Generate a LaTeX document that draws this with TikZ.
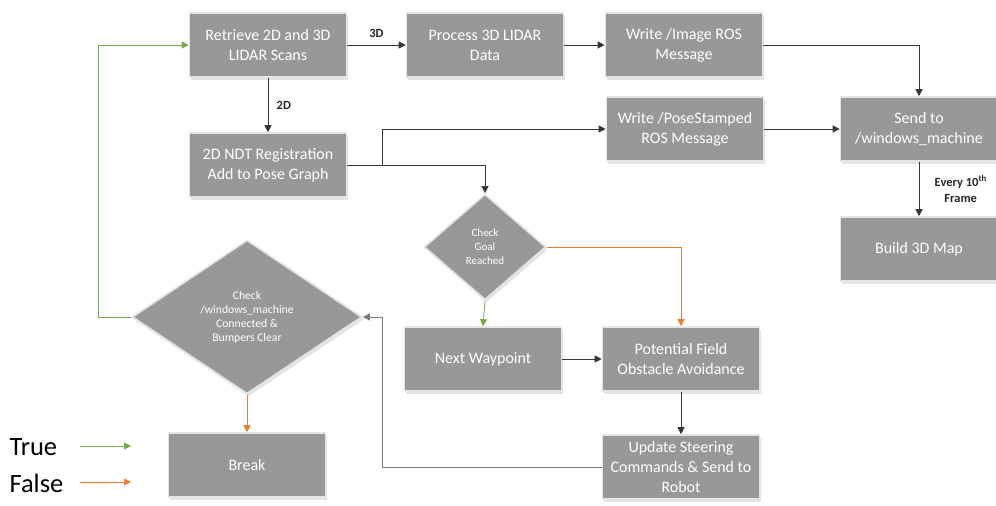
\documentclass[tikz,border=0pt]{standalone}
\usepackage{fontspec}
\setmainfont{Carlito}
\usetikzlibrary{arrows.meta,shapes.geometric,shadows}

\definecolor{boxgray}{RGB}{152,152,152}
\definecolor{edgeline}{RGB}{55,55,55}
\definecolor{loopline}{RGB}{120,120,120}
\definecolor{truegreen}{RGB}{112,173,71}
\definecolor{falseorange}{RGB}{237,125,49}

\tikzset{
  stepbox/.style={rectangle, fill=boxgray, draw=white!90!black, line width=1.6pt,
    text=white, align=center, font=\fontsize{16}{20}\selectfont,
    minimum width=157pt, minimum height=64pt, inner sep=1pt,
    drop shadow={shadow xshift=1.5pt, shadow yshift=-2.5pt, fill=black!22}},
  decision/.style={diamond, fill=boxgray, draw=white!90!black, line width=1.8pt,
    text=white, align=center, inner sep=0pt,
    drop shadow={shadow xshift=1.5pt, shadow yshift=-2.5pt, fill=black!22}},
  flow/.style={draw=edgeline, line width=0.8pt, -{Triangle[length=7pt,width=7pt]}},
  yes/.style={draw=truegreen, line width=0.8pt, -{Triangle[length=7pt,width=7pt]}},
  no/.style={draw=falseorange, line width=0.8pt, -{Triangle[length=7pt,width=7pt]}},
  tag/.style={font=\fontsize{12.5}{16}\selectfont\bfseries, text=black!85, align=center},
  legendtext/.style={anchor=west, font=\fontsize{26.5}{28}\selectfont},
}

\begin{document}
\begin{tikzpicture}[x=1pt, y=-1pt]
\useasboundingbox (0,0) rectangle (996,506);

% process boxes
\node[stepbox] (retrieve) at (268,45)  {Retrieve 2D and 3D\\LIDAR Scans};
\node[stepbox] (process)  at (485,45)  {Process 3D LIDAR\\Data};
\node[stepbox] (image)    at (684,45)  {Write /Image ROS\\Message};
\node[stepbox] (ndt)      at (268,165) {2D NDT Registration\\Add to Pose Graph};
\node[stepbox] (pose)     at (685,129) {Write /PoseStamped\\ROS Message};
\node[stepbox] (send)     at (919,129) {Send to\\/windows\_machine};
\node[stepbox] (map)      at (919,249) {Build 3D Map};
\node[stepbox] (waypoint) at (483,359) {Next Waypoint};
\node[stepbox] (field)    at (681,359) {Potential Field\\Obstacle Avoidance};
\node[stepbox] (steer)    at (681,467) {Update Steering\\Commands \& Send to\\Robot};
\node[stepbox] (brk)      at (247,465) {Break};

% decisions
\node[decision, minimum width=122pt, minimum height=106pt,
      font=\fontsize{11}{14}\selectfont] (goal) at (485,247) {Check\\Goal\\Reached};
\node[decision, minimum width=230pt, minimum height=154pt,
      font=\fontsize{11.7}{14}\selectfont] (check) at (247,317)
      {Check\\/windows\_machine\\Connected \&\\Bumpers Clear};

% junction points
\coordinate (split) at (382,165);
\coordinate (loopturn) at (382,317);
\coordinate (backturn) at (98,45);

% connectors
\draw[flow] (retrieve) -- node[tag, above, yshift=4pt] {3D} (process);
\draw[flow] (retrieve) -- node[tag, right, xshift=5pt] {2D} (ndt);
\draw[flow] (process) -- (image);
\draw[flow] (image.east) -| (send.north);
\draw[draw=edgeline, line width=0.8pt] (ndt.east) -- (split);
\draw[flow] (split) |- (pose.west);
\draw[flow] (split) -| (goal.north);
\draw[flow] (pose) -- (send);
\draw[flow] (send) -- node[tag, right, xshift=12pt] {Every 10\textsuperscript{th}\\Frame} (map);
\draw[yes] (goal.south) -- (waypoint.north);
\draw[no] (goal.east) -| (field.north);
\draw[flow] (waypoint) -- (field);
\draw[flow] (field) -- (steer);
\draw[draw=loopline, line width=0.8pt, -{Triangle[length=7pt,width=7pt]}]
  (steer.west) -| (loopturn) -- (check.east);
\draw[yes] (check.west) -| (backturn) -- (retrieve.west);
\draw[no] (check.south) -- (brk.north);

% legend
\node[legendtext] (ltrue)  at (6,447) {True};
\node[legendtext] (lfalse) at (6,483) {False};
\coordinate (ty0) at (80,446);  \coordinate (ty1) at (131,446);
\coordinate (fy0) at (80,482);  \coordinate (fy1) at (131,482);
\draw[yes] (ty0) -- (ty1);
\draw[no] (fy0) -- (fy1);
\end{tikzpicture}
\end{document}
